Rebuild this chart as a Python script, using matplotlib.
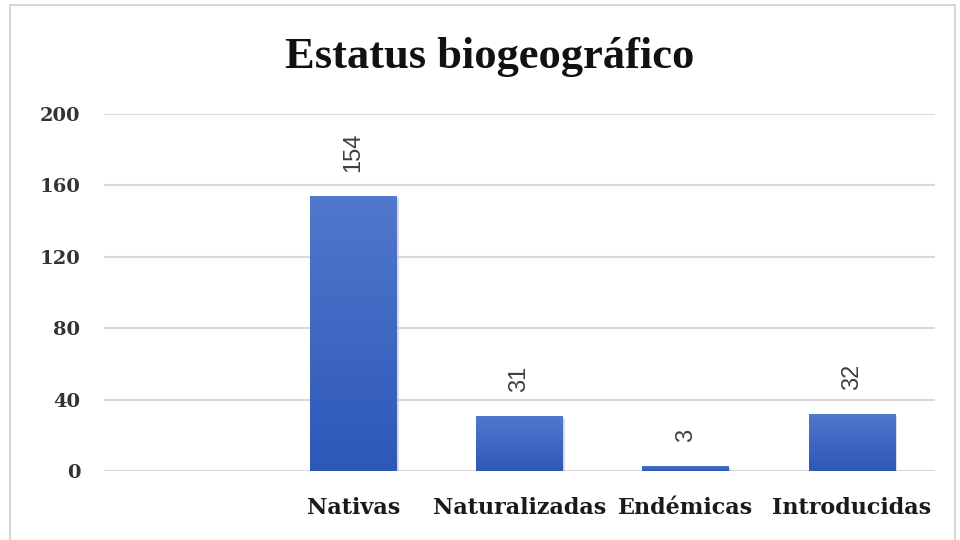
import numpy as np
import matplotlib.pyplot as plt
from matplotlib.patches import Rectangle
from matplotlib.colors import LinearSegmentedColormap

# Species count by biogeographic status (first slot is left blank)
categories = ['', 'Nativas', 'Naturalizadas', 'Endémicas', 'Introducidas']
counts = [np.nan, 154, 31, 3, 32]
yticks = [0, 40, 80, 120, 160, 200]

serif = ['DejaVu Serif']
title_serif = ['Liberation Serif', 'DejaVu Serif']
sans = ['Liberation Sans', 'DejaVu Sans']

fig = plt.figure(figsize=(9.6, 5.4), dpi=100)
fig.patch.set_facecolor('white')

# light outer border of the chart area
fig.patches.append(Rectangle((10 / 960, -5 / 540), 945 / 960, 540 / 540,
                             transform=fig.transFigure, fill=False,
                             edgecolor='#d0d0d0', linewidth=1.2))

ax = fig.add_axes([104 / 960, 1 - 471 / 540, 831 / 960, 357 / 540])
x = np.arange(len(categories))
vals = np.nan_to_num(counts)
bars = ax.bar(x, vals, width=0.52, color='#3a62c4', zorder=3)

# vertical blue gradient inside every bar
grad = LinearSegmentedColormap.from_list('bar', ['#2d58b8', '#5078cc'])
for b, v in zip(bars, counts):
    if np.isnan(v):
        b.set_visible(False)
        continue
    x0, w, h = b.get_x(), b.get_width(), b.get_height()
    # soft shadow to the right / below
    ax.add_patch(Rectangle((x0 + 0.012, -1.2), w, h, color='#b8b8b8',
                           alpha=0.5, zorder=2, linewidth=0))
    img = ax.imshow(np.linspace(0, 1, 64).reshape(-1, 1), cmap=grad,
                    extent=[x0, x0 + w, 0, h], origin='lower',
                    aspect='auto', zorder=3.5)
    img.set_clip_path(b)
    ax.annotate(f'{int(v)}', (x0 + w / 2, h), xytext=(0, 17),
                textcoords='offset points', rotation=90, ha='center',
                va='bottom', fontsize=17, color='#404040', family=sans)

ax.set_xlim(-0.5, len(categories) - 0.5)
ax.set_ylim(0, 200)
ax.set_yticks(yticks)
ax.set_yticklabels([str(t) for t in yticks], family=serif,
                   fontweight='bold', fontsize=14, color='#333333')
ax.set_xticks(x)
ax.set_xticklabels(categories, family=serif, fontweight='bold',
                   fontsize=16, color='#1a1a1a')
ax.tick_params(axis='both', length=0)
ax.tick_params(axis='y', pad=17)
ax.tick_params(axis='x', pad=19)

ax.yaxis.grid(True, color='#d9d9d9', linewidth=1.5, zorder=0)
ax.set_axisbelow(True)
for s in ax.spines.values():
    s.set_visible(False)

fig.text(490 / 960, 1 - 68 / 540, 'Estatus biogeográfico', ha='center',
         va='baseline', fontsize=32, fontweight='bold', family=title_serif,
         color='#111111')

fig.savefig('out.png', dpi=100, facecolor='white')
